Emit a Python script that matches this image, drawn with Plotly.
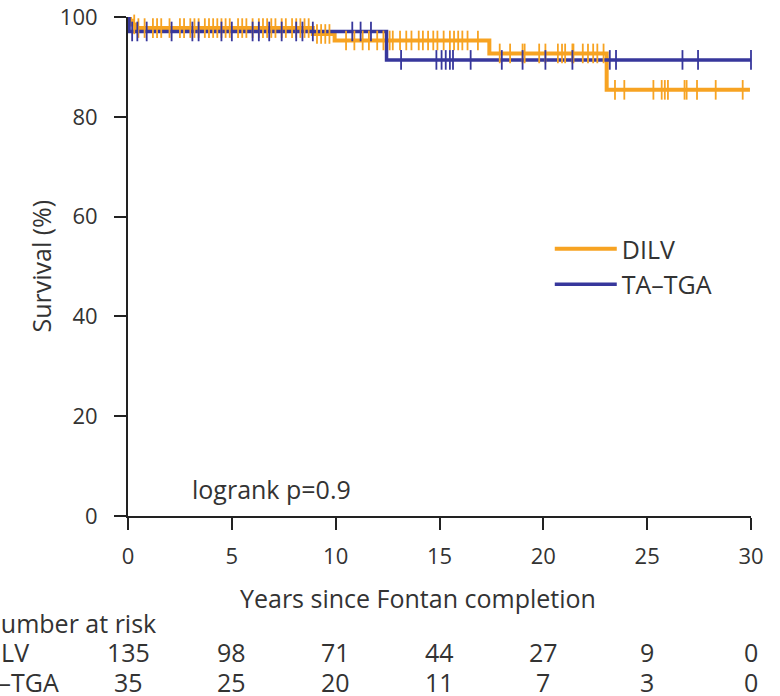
import plotly.graph_objects as go

# ---- data ----
dilv_times = [0, 0.1, 0.2, 0.35, 8.9, 9.95, 17.4, 23.05, 29.95]
dilv_surv = [100, 99.26, 98.52, 97.78, 96.6, 95.3, 92.7, 85.4, 85.4]
tatga_times = [0, 0.05, 12.45, 30]
tatga_surv = [100, 97.1, 91.4, 91.4]

dilv_censor = [0.3, 0.5, 0.8, 1.2, 1.4, 1.6, 2.0, 2.5, 2.7, 3.0, 3.2, 3.4, 3.7, 3.9,
               4.1, 4.3, 4.5, 4.7, 4.9, 5.3, 5.5, 5.7, 6.0, 6.3, 6.5, 6.7, 6.9, 7.1,
               7.4, 7.6, 7.9, 8.1, 8.3, 8.5, 8.7,
               9.1, 9.3, 9.5, 9.7,
               10.5, 10.9, 11.3, 11.6, 12.0, 12.3, 12.6, 12.75, 13.1, 13.4, 13.65,
               14.0, 14.2, 14.45, 14.7, 14.9, 15.2, 15.5, 15.7, 15.9, 16.1, 16.35, 16.85,
               17.9, 18.4, 19.0, 19.1, 19.8, 20.1, 20.7, 20.9, 21.05, 21.4, 21.45,
               21.9, 22.15, 22.4, 22.6, 22.9,
               23.45, 23.9, 25.3, 25.7, 25.85, 26.0, 26.8, 26.9, 27.4, 28.3, 29.6]
tatga_censor = [0.2, 0.45, 0.9, 2.1, 3.1, 3.4, 4.5, 5.0, 6.0, 6.3, 6.8, 7.4, 8.1,
                8.4, 8.9, 10.8, 11.2, 11.7,
                13.15, 14.85, 15.1, 15.3, 15.5, 15.65, 16.5, 18.0, 19.0, 20.1, 21.4,
                23.2, 23.5, 26.7, 27.45, 30.0]

tick_years = [0, 5, 10, 15, 20, 25, 30]
risk_dilv = [135, 98, 71, 44, 27, 9, 0]
risk_tatga = [35, 25, 20, 11, 7, 3, 0]

ORANGE = "#F7A322"
BLUE = "#37379C"
TXT = "#333333"
FONT = "Open Sans"
FS = 25


def surv_at(times, surv, t):
    val = surv[0]
    for ti, si in zip(times, surv):
        if ti <= t:
            val = si
    return val


fig = go.Figure()

fig.add_trace(go.Scatter(x=dilv_times, y=dilv_surv, mode="lines", line_shape="hv",
                         line=dict(color=ORANGE, width=4), name="DILV"))
fig.add_trace(go.Scatter(x=tatga_times, y=tatga_surv, mode="lines", line_shape="hv",
                         line=dict(color=BLUE, width=3.5), name="TA\u2013TGA"))

fig.add_trace(go.Scatter(x=dilv_censor, y=[surv_at(dilv_times, dilv_surv, t) for t in dilv_censor],
                         mode="markers", showlegend=False, cliponaxis=False,
                         marker=dict(symbol="line-ns-open", size=14, color=ORANGE,
                                     line=dict(color=ORANGE, width=1.8))))
fig.add_trace(go.Scatter(x=tatga_censor, y=[surv_at(tatga_times, tatga_surv, t) for t in tatga_censor],
                         mode="markers", showlegend=False, cliponaxis=False,
                         marker=dict(symbol="line-ns-open", size=14, color=BLUE,
                                     line=dict(color=BLUE, width=1.8))))


def note(text, x, y, xref="paper", yref="paper", xanchor="center", **kw):
    return dict(text=text, xref=xref, yref=yref, x=x, y=y, xanchor=xanchor,
                yanchor="middle", showarrow=False,
                font=dict(size=FS, color=TXT, family=FONT), **kw)


annotations = [
    note("Survival (%)", (40 - 128) / 623, 0.5, textangle=-90),
    note("Years since Fontan completion", 0.466, -0.1643),
    note("logrank p=0.9", 2.98, 5.4, xref="x", yref="y", xanchor="left"),
    note("Number at risk", (-20 - 128) / 623, -0.2144, xanchor="left"),
    note("DILV", (-26 - 128) / 623, -0.2725, xanchor="left"),
    note("TA\u2013TGA", (-33 - 128) / 623, -0.3327, xanchor="left"),
]
for yr, a, b in zip(tick_years, risk_dilv, risk_tatga):
    annotations.append(note(str(a), yr, -0.2725, xref="x"))
    annotations.append(note(str(b), yr, -0.3327, xref="x"))

axis_common = dict(showline=True, linecolor="#222222", linewidth=2, ticks="outside",
                   ticklen=12, tickwidth=1.8, tickcolor="#222222", showgrid=False,
                   zeroline=False, automargin=False,
                   tickfont=dict(size=22, color=TXT, family=FONT))

fig.update_layout(
    width=780, height=696,
    margin=dict(l=128, r=29, t=17, b=180, autoexpand=False),
    plot_bgcolor="white", paper_bgcolor="white",
    font=dict(family=FONT, size=FS, color=TXT),
    showlegend=True,
    legend=dict(x=0.677, y=0.5, xanchor="left", yanchor="middle",
                bgcolor="rgba(0,0,0,0)", font=dict(size=FS, color=TXT, family=FONT),
                itemwidth=62, tracegroupgap=0),
    annotations=annotations,
    xaxis=dict(range=[0, 30], tickvals=tick_years, ticklabelstandoff=8, **axis_common),
    yaxis=dict(range=[0, 100], tickvals=[0, 20, 40, 60, 80, 100], ticklabelstandoff=12,
               **axis_common),
)

fig.write_html("out.html", config={"displayModeBar": False},
               post_script="document.body.style.margin='0px';")
